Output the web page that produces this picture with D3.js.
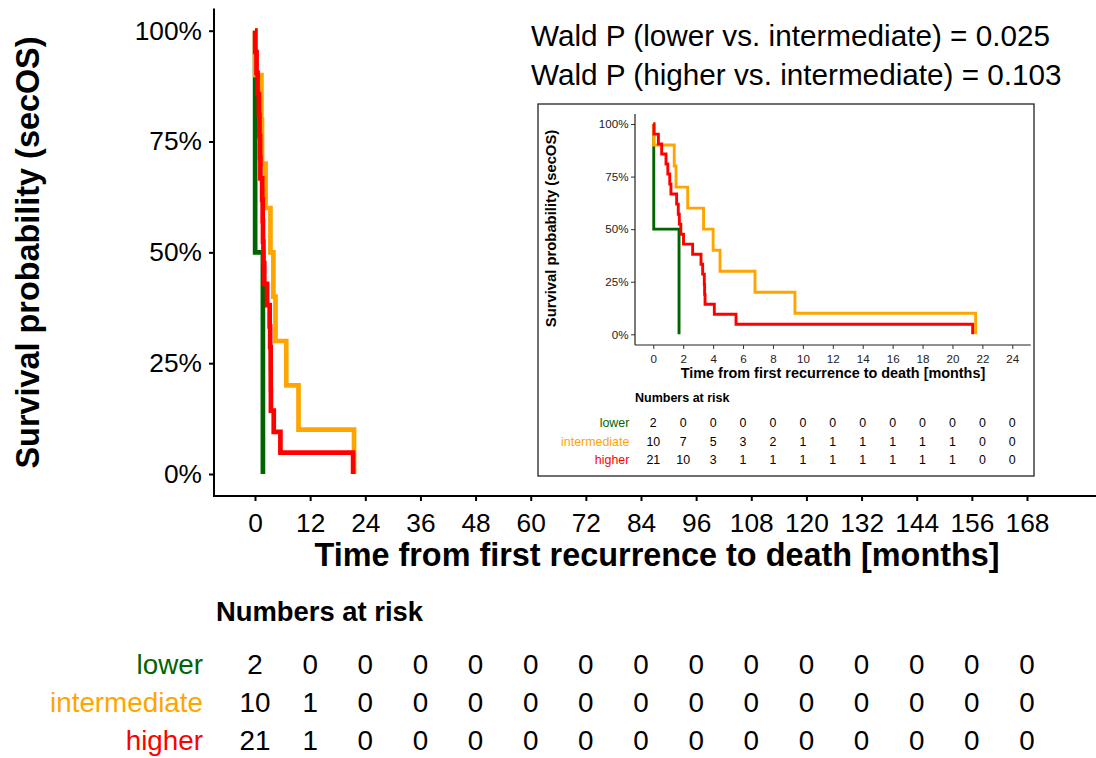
<!DOCTYPE html>
<html>
<head>
<meta charset="utf-8">
<script src="https://cdn.jsdelivr.net/npm/d3@7"></script>
<style>
  html, body { margin: 0; padding: 0; background: #fff; }
  svg { display: block; font-family: "Liberation Sans", Arial, sans-serif; }
</style>
</head>
<body>
<svg id="chart" width="1096" height="758"></svg>
<script>
// ---------------- data ----------------
const groups = ["lower", "intermediate", "higher"];
const groupColors = ["#006400", "#FFA500", "#FF0000"];

// Kaplan-Meier step curves (time in months, survival probability)
const lowerTimes = [0, 0.03, 1.72];
const lowerSurv  = [1, 0.5, 0];

const intermediateTimes = [0, 0.02, 1.40, 1.52, 2.30, 3.36, 4.0, 4.46, 6.8, 9.47, 21.55];
const intermediateSurv  = [1, 0.9, 0.8, 0.7, 0.6, 0.5, 0.4, 0.3, 0.2, 0.1, 0];

const higherTimes = [0, 0.05, 0.34, 0.56, 0.85, 0.97, 1.10, 1.18, 1.56, 1.67, 1.74, 1.84, 2.02, 2.63, 3.19, 3.30, 3.41, 3.43, 3.46, 4.08, 5.53, 21.35];
const higherSurv  = [1, 0.952, 0.905, 0.857, 0.810, 0.762, 0.714, 0.667, 0.619, 0.571, 0.524, 0.476, 0.429, 0.381, 0.333, 0.286, 0.238, 0.190, 0.143, 0.095, 0.048, 0];

// main plot axis ticks
const mainXTicks = [0, 12, 24, 36, 48, 60, 72, 84, 96, 108, 120, 132, 144, 156, 168];
const mainYTicks = [0, 0.25, 0.5, 0.75, 1];

// main numbers at risk (at mainXTicks)
const mainRiskLower        = [2, 0, 0, 0, 0, 0, 0, 0, 0, 0, 0, 0, 0, 0, 0];
const mainRiskIntermediate = [10, 1, 0, 0, 0, 0, 0, 0, 0, 0, 0, 0, 0, 0, 0];
const mainRiskHigher       = [21, 1, 0, 0, 0, 0, 0, 0, 0, 0, 0, 0, 0, 0, 0];

// inset axis ticks
const insetXTicks = [0, 2, 4, 6, 8, 10, 12, 14, 16, 18, 20, 22, 24];
const insetYTicks = [0, 0.25, 0.5, 0.75, 1];

// inset numbers at risk (at insetXTicks)
const insetRiskLower        = [2, 0, 0, 0, 0, 0, 0, 0, 0, 0, 0, 0, 0];
const insetRiskIntermediate = [10, 7, 5, 3, 2, 1, 1, 1, 1, 1, 1, 0, 0];
const insetRiskHigher       = [21, 10, 3, 1, 1, 1, 1, 1, 1, 1, 1, 0, 0];

const waldLines = [
  "Wald P (lower vs. intermediate) = 0.025",
  "Wald P (higher vs. intermediate) = 0.103"
];

const curves = [
  { name: "lower", times: lowerTimes, surv: lowerSurv },
  { name: "intermediate", times: intermediateTimes, surv: intermediateSurv },
  { name: "higher", times: higherTimes, surv: higherSurv }
];
const mainRisk = [mainRiskLower, mainRiskIntermediate, mainRiskHigher];
const insetRisk = [insetRiskLower, insetRiskIntermediate, insetRiskHigher];

// ---------------- drawing ----------------
const svg = d3.select("#chart");
const FONT = '"Liberation Sans", Arial, sans-serif';
const pct = d => Math.round(d * 100) + "%";
const color = d3.scaleOrdinal().domain(groups).range(groupColors);

// ===== Main plot =====
const xMain = d3.scaleLinear().domain([0, 168]).range([255, 1027]);
const yMain = d3.scaleLinear().domain([0, 1]).range([474, 30.7]);
const mainAxisX = 214;   // y-axis line position
const mainAxisY = 496;   // x-axis line position

const lineMain = d3.line()
  .x(d => xMain(d[0])).y(d => yMain(d[1]))
  .curve(d3.curveStepAfter);

const gMainCurves = svg.append("g");
curves.forEach(c => {
  gMainCurves.append("path")
    .datum(d3.zip(c.times, c.surv))
    .attr("d", lineMain)
    .attr("fill", "none")
    .attr("stroke", color(c.name))
    .attr("stroke-width", 4.7)
    .attr("stroke-linejoin", "miter")
    .attr("stroke-linecap", "butt");
});

// y axis
const gYMain = svg.append("g")
  .attr("transform", `translate(${mainAxisX},0)`)
  .call(d3.axisLeft(yMain).tickValues(mainYTicks).tickFormat(pct).tickSize(5).tickPadding(7));
gYMain.select(".domain").remove();
gYMain.selectAll(".tick line").attr("stroke", "#000").attr("stroke-width", 2);
gYMain.selectAll(".tick text").attr("font-family", FONT).attr("font-size", 26.3).attr("fill", "#000");
svg.append("line")
  .attr("x1", mainAxisX).attr("x2", mainAxisX)
  .attr("y1", yMain(1.05)).attr("y2", mainAxisY + 1)
  .attr("stroke", "#000").attr("stroke-width", 2);

// x axis
const gXMain = svg.append("g")
  .attr("transform", `translate(0,${mainAxisY})`)
  .call(d3.axisBottom(xMain).tickValues(mainXTicks).tickSize(5).tickPadding(12));
gXMain.select(".domain").remove();
gXMain.selectAll(".tick line").attr("stroke", "#000").attr("stroke-width", 2);
gXMain.selectAll(".tick text").attr("font-family", FONT).attr("font-size", 26.3).attr("fill", "#000");
svg.append("line")
  .attr("x1", mainAxisX - 1).attr("x2", 1096)
  .attr("y1", mainAxisY).attr("y2", mainAxisY)
  .attr("stroke", "#000").attr("stroke-width", 2);

// axis titles
svg.append("text")
  .attr("x", 657).attr("y", 566)
  .attr("text-anchor", "middle")
  .attr("font-family", FONT).attr("font-size", 32.4).attr("font-weight", "bold")
  .text("Time from first recurrence to death [months]");
svg.append("text")
  .attr("transform", "translate(39,252.5) rotate(-90)")
  .attr("text-anchor", "middle")
  .attr("font-family", FONT).attr("font-size", 32.4).attr("font-weight", "bold")
  .text("Survival probability (secOS)");

// Wald annotations
svg.selectAll(".wald").data(waldLines).enter().append("text")
  .attr("class", "wald")
  .attr("x", 531).attr("y", (d, i) => 45.5 + i * 39.5)
  .attr("font-family", FONT).attr("font-size", 29.7)
  .text(d => d);

// ===== Inset =====
svg.append("rect")
  .attr("x", 538).attr("y", 104).attr("width", 496).attr("height", 372)
  .attr("fill", "#fff").attr("stroke", "#222").attr("stroke-width", 1.3);

const xIn = d3.scaleLinear().domain([0, 24]).range([653.3, 1012.3]);
const yIn = d3.scaleLinear().domain([0, 1]).range([334.3, 124]);
const inAxisX = 635, inAxisY = 345;

const lineIn = d3.line()
  .x(d => xIn(d[0])).y(d => yIn(d[1]))
  .curve(d3.curveStepAfter);

curves.forEach(c => {
  svg.append("path")
    .datum(d3.zip(c.times, c.surv))
    .attr("d", lineIn)
    .attr("fill", "none")
    .attr("stroke", color(c.name))
    .attr("stroke-width", 2.9)
    .attr("stroke-linecap", "butt");
});

const gYIn = svg.append("g")
  .attr("transform", `translate(${inAxisX},0)`)
  .call(d3.axisLeft(yIn).tickValues(insetYTicks).tickFormat(pct).tickSize(4).tickPadding(2.5));
gYIn.select(".domain").remove();
gYIn.selectAll(".tick line").attr("stroke", "#333").attr("stroke-width", 1);
gYIn.selectAll(".tick text").attr("font-family", FONT).attr("font-size", 11.6).attr("fill", "#222");
svg.append("line")
  .attr("x1", inAxisX).attr("x2", inAxisX)
  .attr("y1", yIn(1.047)).attr("y2", inAxisY)
  .attr("stroke", "#222").attr("stroke-width", 1.2);

const gXIn = svg.append("g")
  .attr("transform", `translate(0,${inAxisY})`)
  .call(d3.axisBottom(xIn).tickValues(insetXTicks).tickSize(4).tickPadding(5.5));
gXIn.select(".domain").remove();
gXIn.selectAll(".tick line").attr("stroke", "#333").attr("stroke-width", 1);
gXIn.selectAll(".tick text").attr("font-family", FONT).attr("font-size", 11.6).attr("fill", "#222");
svg.append("line")
  .attr("x1", inAxisX).attr("x2", 1030.7)
  .attr("y1", inAxisY).attr("y2", inAxisY)
  .attr("stroke", "#222").attr("stroke-width", 1.2);

svg.append("text")
  .attr("x", 833).attr("y", 378)
  .attr("text-anchor", "middle")
  .attr("font-family", FONT).attr("font-size", 14.4).attr("font-weight", "bold")
  .text("Time from first recurrence to death [months]");
svg.append("text")
  .attr("transform", "translate(556,228.5) rotate(-90)")
  .attr("text-anchor", "middle")
  .attr("font-family", FONT).attr("font-size", 14.8).attr("font-weight", "bold")
  .text("Survival probability (secOS)");

// inset risk table
svg.append("text")
  .attr("x", 635).attr("y", 402)
  .attr("font-family", FONT).attr("font-size", 12.5).attr("font-weight", "bold")
  .text("Numbers at risk");
const insetRowY = [427.3, 446, 464.3];
groups.forEach((g, gi) => {
  svg.append("text")
    .attr("x", 629.3).attr("y", insetRowY[gi])
    .attr("text-anchor", "end")
    .attr("font-family", FONT).attr("font-size", 12.4)
    .attr("fill", color(g))
    .text(g);
  svg.selectAll(null).data(d3.zip(insetXTicks, insetRisk[gi])).enter().append("text")
    .attr("x", d => xIn(d[0])).attr("y", insetRowY[gi])
    .attr("text-anchor", "middle")
    .attr("font-family", FONT).attr("font-size", 12.4).attr("fill", "#000")
    .text(d => d[1]);
});

// ===== Main risk table =====
svg.append("text")
  .attr("x", 216).attr("y", 621)
  .attr("font-family", FONT).attr("font-size", 27.4).attr("font-weight", "bold")
  .text("Numbers at risk");
const mainRowY = [673.5, 711.5, 749.5];
groups.forEach((g, gi) => {
  svg.append("text")
    .attr("x", 203).attr("y", mainRowY[gi])
    .attr("text-anchor", "end")
    .attr("font-family", FONT).attr("font-size", 27.8)
    .attr("fill", color(g))
    .text(g);
  svg.selectAll(null).data(d3.zip(mainXTicks, mainRisk[gi])).enter().append("text")
    .attr("x", d => xMain(d[0])).attr("y", mainRowY[gi])
    .attr("text-anchor", "middle")
    .attr("font-family", FONT).attr("font-size", 27.8).attr("fill", "#000")
    .text(d => d[1]);
});
</script>
</body>
</html>
